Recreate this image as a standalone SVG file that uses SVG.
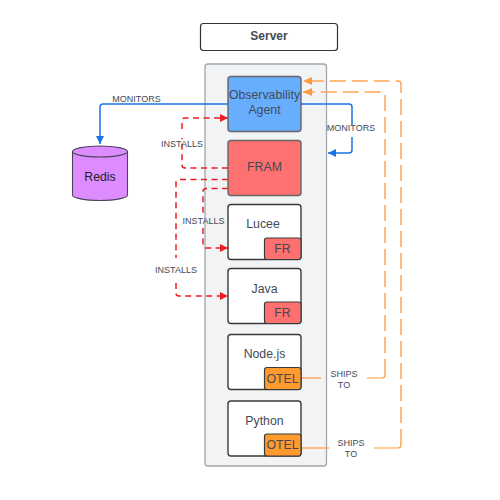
<svg xmlns="http://www.w3.org/2000/svg" width="500" height="500" viewBox="0 0 500 500">
<style>
text{font-family:"Liberation Sans",Arial,sans-serif;fill:#434a54;text-anchor:middle}
.n{font-size:12.3px}
.l{font-size:9px}
.box{stroke:#666;stroke-width:1.4}
.w{fill:#fff;stroke:#3a3a3a}
.red{fill:#ff7070}
.or{fill:#ff9a2e;stroke:#3a3a3a;stroke-width:1.200}
.frb{fill:#ff7070;stroke:#3a3a3a;stroke-width:1.200}
.c{fill:none;stroke-linejoin:round}
.blue{stroke:#1a73e8;stroke-width:1.500}
.dr{stroke:#ee1c25;stroke-width:1.500;stroke-dasharray:6 4.500}
.do{stroke:#ffa552;stroke-width:1.500;stroke-dasharray:16 6}
.so{stroke:#ff9a3c;stroke-width:1.200}
</style>
<defs>
<marker id="ab" markerUnits="userSpaceOnUse" markerWidth="9" markerHeight="8" refX="8" refY="4" orient="auto"><path d="M0 0L8 4L0 8z" fill="#1a73e8"/></marker>
<marker id="ar" markerUnits="userSpaceOnUse" markerWidth="9" markerHeight="8" refX="8" refY="4" orient="auto"><path d="M0 0L8 4L0 8z" fill="#ee1c25"/></marker>
<marker id="ao" markerUnits="userSpaceOnUse" markerWidth="10" markerHeight="8" refX="9" refY="4" orient="auto"><path d="M0 0L9 4L0 8z" fill="#ff9a3c"/></marker>
</defs>
<g id="server"><rect x="200.500" y="23.500" width="137" height="27" rx="3" fill="#fff" stroke="#333" stroke-width="1.200"/><text x="269" y="40" style="font-size:12px;font-weight:bold">Server</text></g>
<g id="container"><rect x="205" y="64" width="121.500" height="402" rx="3" fill="#f1f3f5" stroke="#a3a6ab" stroke-width="1.300"/></g>
<g id="connectors">
<path class="c blue" d="M228 104H103Q100 104 100 107V144" marker-end="url(#ab)"/>
<path class="c blue" d="M301 104H349Q352 104 352 107V125M352 137V150Q352 153 349 153H328" marker-end="url(#ab)"/>
<path class="c dr" d="M228 168H185Q182 168 182 165V138M182 129V120Q182 118 185 118H228" marker-end="url(#ar)"/>
<path class="c dr" d="M228 179.500H179Q176 179.500 176 182.500V258M176 283V293Q176 296 179 296H228" marker-end="url(#ar)"/>
<path class="c dr" d="M228 188.500H206Q203 188.500 203 191.500V215M203 228V245Q203 248 206 248H228" marker-end="url(#ar)"/>
<path class="c do" d="M385 375V95Q385 92 382 92H303" marker-end="url(#ao)"/>
<path class="c do" d="M401 445V84Q401 81 398 81H303" marker-end="url(#ao)"/>
<path class="c so" d="M301 378H321"/><path class="c so" d="M367 378H382Q385 378 385 375"/>
<path class="c so" d="M301 448H329"/><path class="c so" d="M374 448H398Q401 448 401 445"/>
</g>
<g id="redis"><path d="M72.500 151.500A27.500 5.500 0 0 1 127.500 151.500V195A27.500 5.500 0 0 1 72.500 195Z" fill="#dd8cff" stroke="#4a4458" stroke-width="1.100"/><path d="M72.500 151.500A27.500 5.500 0 0 0 127.500 151.500" fill="none" stroke="#4a4458" stroke-width="1.100"/><text class="n" x="100" y="181" style="fill:#222">Redis</text></g>
<g id="agent"><rect class="box" x="228" y="76.500" width="73" height="55" rx="3" fill="#68aeff"/><text class="n" x="264.500" y="99">Observability</text><text class="n" x="264.500" y="114">Agent</text></g>
<g id="fram"><rect class="box red" x="228" y="140.500" width="73" height="55" rx="3"/><text class="n" x="264.500" y="170.500">FRAM</text></g>
<g id="lucee"><rect class="box w" x="228" y="204.500" width="73" height="55" rx="3"/><text class="n" x="263" y="228">Lucee</text><rect class="frb" x="264.500" y="238" width="36.500" height="21.500" rx="2.500"/><text class="n" x="282.500" y="253">FR</text></g>
<g id="java"><rect class="box w" x="228" y="268.500" width="73" height="55" rx="3"/><text class="n" x="264.500" y="293">Java</text><rect class="frb" x="264.500" y="302" width="36.500" height="21.500" rx="2.500"/><text class="n" x="282.500" y="317">FR</text></g>
<g id="nodejs"><rect class="box w" x="228" y="334.500" width="73" height="55" rx="3"/><text class="n" x="264.500" y="358">Node.js</text><rect class="or" x="264.500" y="367.500" width="36.500" height="22" rx="2.500"/><text class="n" x="282.500" y="382.500">OTEL</text></g>
<g id="python"><rect class="box w" x="228" y="401" width="73" height="55" rx="3"/><text class="n" x="264.500" y="425">Python</text><rect class="or" x="264.500" y="434" width="36.500" height="22" rx="2.500"/><text class="n" x="282.500" y="449">OTEL</text></g>
<text class="l" x="136.500" y="102">MONITORS</text>
<text class="l" x="351" y="131">MONITORS</text>
<text class="l" x="182" y="147">INSTALLS</text>
<text class="l" x="203.500" y="224">INSTALLS</text>
<text class="l" x="176" y="273">INSTALLS</text>
<text class="l" x="344" y="377">SHIPS</text><text class="l" x="344" y="388">TO</text>
<text class="l" x="351" y="446">SHIPS</text><text class="l" x="351" y="457">TO</text>
</svg>
